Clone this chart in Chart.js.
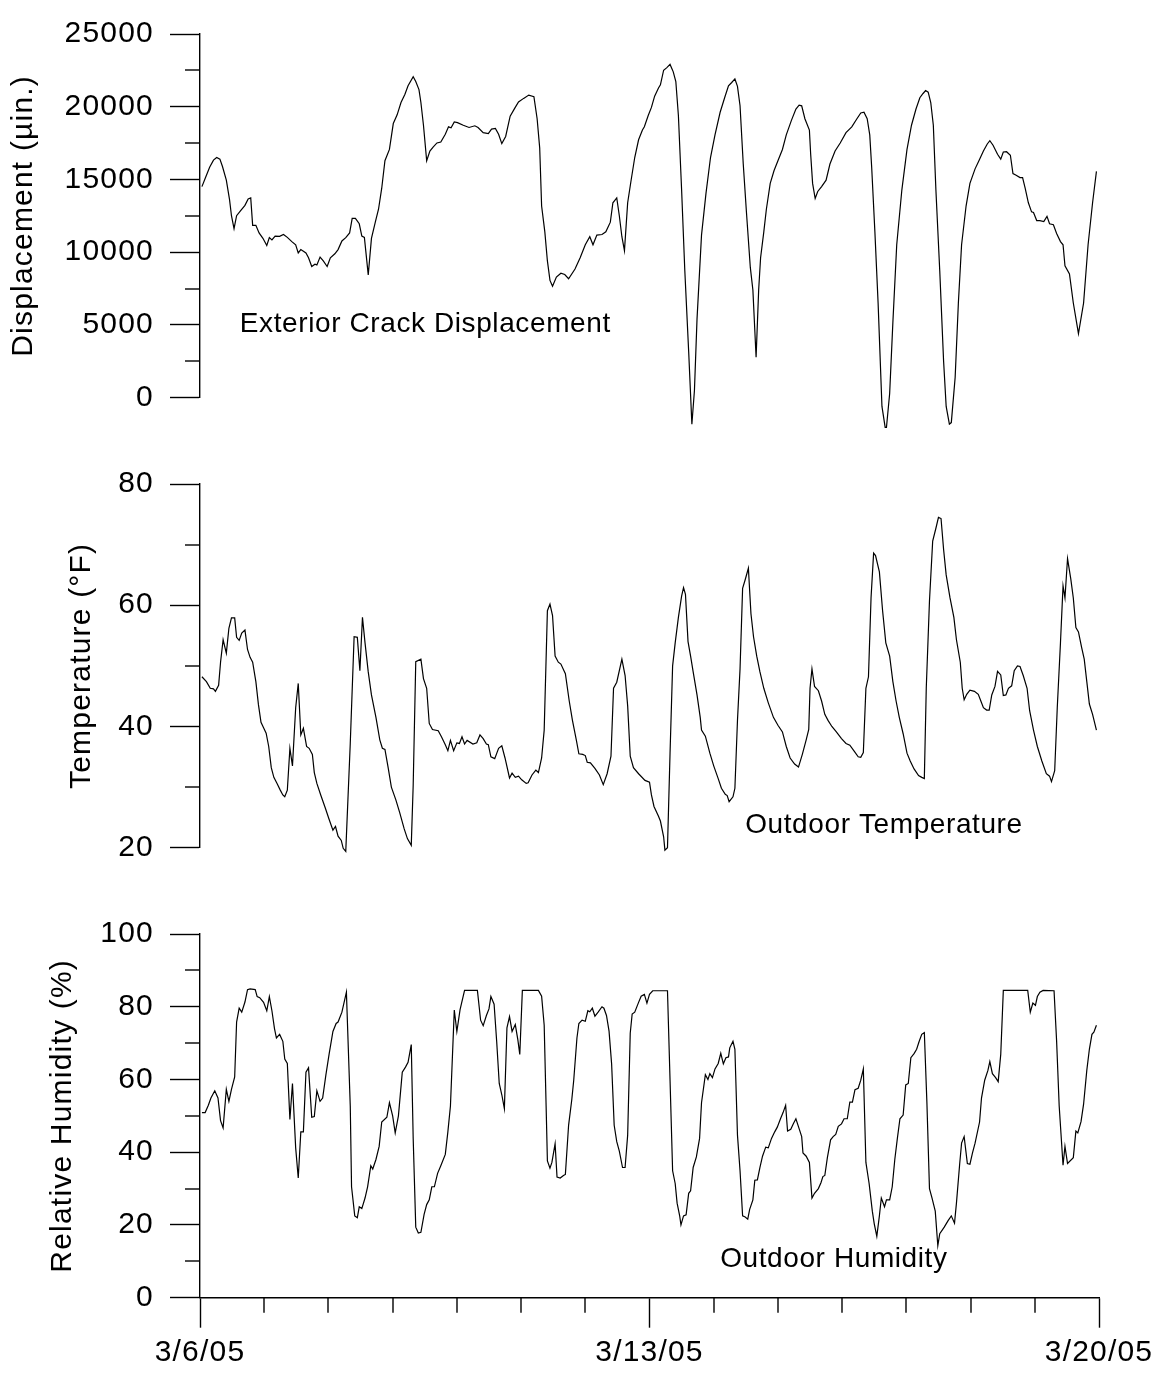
<!DOCTYPE html>
<html><head><meta charset="utf-8">
<script src="https://cdn.jsdelivr.net/npm/chart.js@4.4.0/dist/chart.umd.min.js"></script>
<style>
html,body{margin:0;padding:0;background:#fff;}
#wrap{position:relative;width:1162px;height:1380px;overflow:hidden;background:#fff;}
canvas{position:absolute;left:0;}
</style></head><body>
<div id="wrap">
<canvas id="c1" width="1162" height="450" style="top:0px"></canvas>
<canvas id="c2" width="1162" height="450" style="top:450px"></canvas>
<canvas id="c3" width="1162" height="480" style="top:900px"></canvas>
</div>
<script>
// ---------- DATA (x = days since 3/6/05) ----------
const dispDays = [0.03,0.08,0.15,0.21,0.26,0.31,0.35,0.41,0.46,0.49,0.53,0.57,0.63,0.70,0.75,0.79,0.82,0.87,0.92,0.98,1.04,1.08,1.12,1.17,1.24,1.30,1.36,1.43,1.49,1.53,1.57,1.65,1.69,1.74,1.79,1.82,1.87,1.92,1.98,2.03,2.10,2.15,2.21,2.27,2.33,2.37,2.42,2.48,2.52,2.56,2.62,2.67,2.73,2.78,2.83,2.88,2.95,3.01,3.07,3.13,3.19,3.24,3.32,3.36,3.41,3.44,3.48,3.53,3.58,3.63,3.69,3.75,3.82,3.87,3.91,3.96,4.01,4.10,4.19,4.28,4.33,4.41,4.49,4.54,4.60,4.65,4.70,4.76,4.83,4.90,4.96,5.04,5.12,5.20,5.25,5.29,5.32,5.37,5.41,5.45,5.49,5.55,5.62,5.68,5.74,5.84,5.92,6.00,6.07,6.12,6.18,6.26,6.32,6.39,6.43,6.49,6.53,6.57,6.61,6.66,6.71,6.77,6.83,6.89,6.92,6.98,7.03,7.08,7.14,7.17,7.22,7.27,7.32,7.37,7.41,7.45,7.50,7.55,7.61,7.66,7.70,7.74,7.81,7.88,7.95,8.02,8.10,8.17,8.23,8.28,8.33,8.37,8.41,8.46,8.51,8.57,8.61,8.66,8.70,8.73,8.78,8.82,8.88,8.94,9.00,9.07,9.13,9.21,9.28,9.33,9.37,9.42,9.49,9.51,9.54,9.58,9.62,9.68,9.75,9.81,9.89,9.97,10.06,10.15,10.23,10.29,10.34,10.39,10.43,10.46,10.51,10.56,10.62,10.67,10.69,10.74,10.79,10.85,10.93,11.01,11.08,11.15,11.21,11.26,11.30,11.34,11.38,11.42,11.46,11.52,11.58,11.62,11.67,11.70,11.76,11.81,11.86,11.93,11.99,12.07,12.13,12.20,12.26,12.30,12.35,12.42,12.47,12.51,12.56,12.62,12.66,12.71,12.77,12.81,12.85,12.90,12.95,12.98,13.03,13.08,13.14,13.19,13.23,13.29,13.34,13.40,13.44,13.47,13.54,13.60,13.68,13.76,13.83,13.90,13.96];
const dispValues = [14510,15065,15840,16330,16510,16400,15890,14955,13620,12510,11620,12510,12840,13220,13665,13730,11845,11845,11330,10955,10465,11000,10845,11110,11090,11220,11020,10730,10510,9955,10180,9955,9620,9020,9180,9130,9665,9400,9020,9620,9890,10180,10775,11000,11330,12330,12330,11955,11110,11020,8445,10955,12065,12955,14400,16290,17065,18845,19445,20290,20840,21440,22065,21730,21175,20290,18730,16290,16955,17220,17510,17575,18110,18620,18555,18955,18910,18730,18575,18690,18575,18220,18155,18465,18510,18110,17465,17955,19355,19890,20330,20575,20800,20690,19175,17175,13175,11400,9400,8065,7665,8290,8555,8465,8175,8845,9620,10510,11065,10510,11175,11220,11400,12065,13400,13730,12510,11065,10110,13400,14845,16510,17730,18400,18620,19400,19955,20730,21290,21510,22510,22690,22910,22400,21730,19400,14290,8730,3175,-1820,510,5400,11175,14065,16510,18065,19620,20620,21440,21665,21910,21400,20065,16065,12730,8955,7400,2780,7400,9620,11400,12955,14730,15620,16290,17065,18065,19065,19845,20110,20065,19175,18400,16730,14730,13690,14175,14510,14955,16065,16955,17510,18220,18620,19175,19575,19620,19175,18065,15845,11400,6510,-600,-2045,-2045,290,5175,10510,14290,17065,18730,19845,20620,20910,21110,21000,20290,18730,14290,8730,2510,-600,-1820,-1710,1400,6510,10510,13175,14730,15730,16290,16955,17440,17665,17355,16730,16400,16890,16910,16665,15400,15290,15130,15130,14400,13400,12775,12730,12175,12175,12110,12465,11955,11890,11290,10730,10510,9065,8510,6510,4400,6510,10510,13400,15555];

const tempDays = [0.03,0.10,0.16,0.21,0.24,0.29,0.32,0.36,0.41,0.45,0.49,0.54,0.57,0.61,0.65,0.70,0.74,0.78,0.82,0.87,0.91,0.95,0.99,1.03,1.07,1.11,1.15,1.20,1.25,1.29,1.32,1.36,1.40,1.44,1.49,1.53,1.57,1.61,1.66,1.70,1.75,1.78,1.82,1.88,1.95,2.01,2.07,2.11,2.15,2.20,2.23,2.27,2.34,2.40,2.45,2.49,2.53,2.57,2.62,2.67,2.74,2.80,2.84,2.88,2.93,2.98,3.05,3.11,3.18,3.23,3.29,3.32,3.36,3.44,3.48,3.53,3.57,3.62,3.71,3.76,3.82,3.86,3.90,3.95,4.00,4.04,4.08,4.12,4.16,4.25,4.31,4.36,4.41,4.46,4.49,4.53,4.59,4.65,4.70,4.75,4.82,4.86,4.91,4.96,5.01,5.08,5.11,5.17,5.23,5.27,5.32,5.36,5.41,5.45,5.49,5.53,5.58,5.62,5.69,5.75,5.80,5.86,5.90,5.96,6.00,6.03,6.08,6.15,6.22,6.28,6.34,6.40,6.44,6.49,6.57,6.62,6.66,6.70,6.75,6.83,6.93,7.00,7.03,7.07,7.14,7.17,7.22,7.24,7.28,7.32,7.36,7.40,7.45,7.50,7.53,7.56,7.60,7.64,7.68,7.74,7.79,7.81,7.87,7.94,8.00,8.07,8.12,8.18,8.21,8.24,8.30,8.33,8.37,8.41,8.45,8.49,8.54,8.58,8.62,8.67,8.72,8.78,8.85,8.93,9.00,9.07,9.13,9.19,9.26,9.32,9.38,9.44,9.48,9.50,9.53,9.57,9.63,9.68,9.73,9.78,9.84,9.91,9.99,10.06,10.12,10.19,10.25,10.29,10.33,10.37,10.41,10.45,10.49,10.52,10.58,10.63,10.68,10.74,10.79,10.84,10.89,10.95,11.01,11.06,11.12,11.19,11.24,11.28,11.31,11.36,11.41,11.46,11.50,11.54,11.58,11.62,11.68,11.74,11.78,11.84,11.87,11.90,11.94,11.99,12.06,12.12,12.16,12.20,12.25,12.29,12.33,12.38,12.42,12.47,12.51,12.55,12.59,12.64,12.68,12.73,12.77,12.82,12.88,12.92,12.98,13.04,13.11,13.18,13.23,13.26,13.31,13.35,13.40,13.44,13.47,13.51,13.56,13.60,13.64,13.68,13.73,13.77,13.81,13.85,13.90,13.96];
const tempValues = [48.2,47.4,46.3,46.2,45.8,46.8,50.6,54.3,52.1,56.2,57.9,57.9,54.7,54.2,55.4,55.9,52.7,51.4,50.6,47.4,43.6,40.7,39.8,38.9,36.7,33.2,31.6,30.6,29.5,28.7,28.4,29.5,36.4,33.5,43.1,47.1,38.6,39.7,36.7,36.4,35.4,32.4,30.6,28.7,26.6,24.7,22.9,23.5,21.9,21.2,19.9,19.4,37.2,54.8,54.7,49.2,58.0,53.8,49.0,45.2,41.5,37.8,36.4,36.2,33.2,30.0,27.9,25.8,23.1,21.5,20.4,30.3,50.7,51.1,47.9,46.3,40.5,39.5,39.3,38.3,37.0,36.0,37.7,36.0,37.3,37.2,38.3,37.1,37.7,37.1,37.3,38.6,38.0,37.1,37.0,35.0,34.7,36.4,36.8,34.8,31.5,32.3,31.6,31.8,31.2,30.6,30.7,32.0,32.8,32.4,34.8,39.4,59.1,60.2,58.3,51.6,50.6,50.3,48.7,44.2,41.0,37.8,35.5,35.4,35.2,34.1,34.0,33.1,32.0,30.4,32.2,35.1,46.3,47.3,51.1,48.4,43.4,35.1,33.2,32.2,31.1,30.8,28.7,26.8,25.2,24.4,21.8,19.6,20.0,35.6,50.0,53.8,58.0,61.5,62.9,61.8,54.0,51.6,49.0,45.2,41.5,39.4,38.4,35.6,33.5,31.4,29.8,28.8,28.6,27.6,28.4,29.8,41.0,49.5,62.8,64.2,66.1,58.6,54.8,51.6,49.0,46.3,43.9,41.5,40.2,39.1,36.7,34.8,33.8,33.3,35.4,37.8,39.5,46.3,49.5,46.6,45.9,44.2,42.0,41.0,40.0,39.1,38.0,37.2,36.9,35.9,35.0,34.9,35.7,46.3,48.2,61.2,68.6,68.2,65.5,59.1,53.8,51.6,47.4,44.2,41.5,38.8,35.6,34.3,33.0,31.9,31.6,31.4,46.3,60.7,70.6,72.7,74.5,74.3,69.2,65.0,61.2,58.0,54.3,50.6,46.3,44.4,45.3,46.0,45.8,45.3,44.2,43.1,42.7,42.7,45.2,46.6,49.1,48.5,45.1,45.2,46.3,46.7,49.2,50.0,49.9,48.4,46.3,42.6,39.4,36.7,34.3,32.2,31.8,30.9,32.7,43.1,53.8,63.2,61.2,67.7,64.4,61.2,56.3,55.6,53.0,51.1,47.4,43.7,42.0,39.4];

const humDays = [0.03,0.08,0.13,0.17,0.23,0.28,0.32,0.36,0.41,0.45,0.49,0.54,0.57,0.61,0.65,0.70,0.74,0.78,0.86,0.89,0.93,0.99,1.04,1.08,1.12,1.16,1.19,1.24,1.29,1.32,1.36,1.40,1.44,1.49,1.53,1.57,1.61,1.65,1.69,1.74,1.78,1.82,1.87,1.91,1.96,2.01,2.07,2.12,2.15,2.21,2.28,2.34,2.36,2.41,2.45,2.48,2.52,2.57,2.61,2.66,2.69,2.74,2.79,2.83,2.91,2.95,3.00,3.04,3.09,3.15,3.20,3.24,3.29,3.32,3.36,3.40,3.44,3.49,3.53,3.57,3.61,3.65,3.70,3.75,3.82,3.86,3.90,3.96,4.00,4.05,4.12,4.32,4.37,4.41,4.46,4.50,4.53,4.58,4.62,4.66,4.70,4.74,4.78,4.82,4.86,4.91,4.95,4.98,5.02,5.27,5.32,5.36,5.39,5.41,5.45,5.48,5.53,5.56,5.61,5.66,5.69,5.74,5.79,5.82,5.87,5.90,5.95,6.00,6.04,6.07,6.11,6.15,6.20,6.26,6.29,6.33,6.37,6.41,6.45,6.49,6.53,6.58,6.62,6.66,6.70,6.73,6.77,6.83,6.87,6.92,6.96,7.00,7.05,7.28,7.32,7.36,7.40,7.43,7.47,7.49,7.53,7.57,7.61,7.64,7.68,7.73,7.78,7.81,7.87,7.91,7.94,7.98,8.02,8.07,8.11,8.15,8.19,8.23,8.25,8.30,8.33,8.37,8.41,8.45,8.49,8.53,8.56,8.61,8.64,8.68,8.72,8.76,8.81,8.85,8.90,8.95,8.99,9.04,9.08,9.12,9.15,9.20,9.24,9.28,9.33,9.37,9.39,9.44,9.49,9.53,9.57,9.63,9.67,9.70,9.73,9.77,9.82,9.86,9.90,9.94,9.99,10.03,10.08,10.12,10.16,10.20,10.25,10.29,10.33,10.37,10.42,10.47,10.50,10.54,10.58,10.61,10.66,10.69,10.74,10.78,10.82,10.86,10.90,10.95,10.99,11.03,11.07,11.12,11.16,11.20,11.24,11.28,11.32,11.36,11.40,11.45,11.49,11.52,11.59,11.65,11.70,11.75,11.78,11.83,11.86,11.90,11.95,11.99,12.03,12.07,12.14,12.17,12.22,12.27,12.30,12.34,12.39,12.43,12.47,12.51,12.89,12.93,12.97,13.01,13.04,13.08,13.13,13.30,13.34,13.38,13.44,13.47,13.51,13.60,13.64,13.67,13.72,13.76,13.81,13.85,13.89,13.92,13.96];
const humValues = [50.9,50.9,52.9,54.9,56.9,54.9,48.7,46.7,57.3,54.0,57.3,60.7,75.8,79.6,78.5,81.3,84.7,84.9,84.7,82.8,82.5,81.2,78.9,82.8,78.9,74.0,71.4,72.4,70.5,65.6,64.4,49.0,58.9,41.2,32.9,45.6,45.6,62.0,63.2,49.6,49.8,56.9,54.0,54.9,61.2,66.9,73.2,75.4,75.8,78.5,84.0,52.7,30.5,22.5,22.0,25.0,24.5,27.4,30.5,36.3,35.4,38.0,41.6,48.3,49.6,53.6,50.0,45.3,50.0,62.0,63.4,64.7,69.6,43.8,19.4,17.8,18.0,22.9,25.6,26.9,30.5,30.5,34.2,36.3,39.4,45.6,52.7,79.1,73.2,79.2,84.5,84.5,76.3,74.8,77.6,79.4,82.8,80.7,70.5,58.9,55.8,52.0,74.2,77.3,73.2,75.1,70.9,66.9,84.5,84.5,82.9,74.9,52.7,37.6,35.6,37.2,42.3,33.2,32.9,33.6,33.9,47.4,54.5,59.8,71.4,75.4,76.3,76.0,78.9,78.6,79.6,77.4,78.5,80.0,79.6,77.6,73.3,64.3,47.4,42.9,40.3,35.8,35.8,44.7,72.7,78.0,78.5,81.2,82.9,83.4,81.0,83.4,84.4,84.4,59.8,34.9,31.4,26.0,22.5,20.0,22.5,22.8,28.7,29.4,35.8,38.7,43.8,53.6,61.3,60.0,61.6,60.5,62.9,64.4,67.2,64.3,66.0,66.2,68.7,70.5,68.3,44.7,34.9,22.5,22.2,21.6,24.3,26.9,32.3,32.4,35.8,38.9,41.4,41.2,43.8,45.6,46.9,49.2,50.9,52.9,45.8,46.3,47.8,49.2,46.5,44.3,39.8,38.9,37.2,27.4,28.7,30.0,31.6,33.3,33.6,38.5,43.4,44.3,44.9,47.1,47.8,49.2,49.2,53.8,53.8,57.2,57.6,59.8,62.9,37.2,31.4,23.8,20.3,16.9,22.5,27.4,25.0,26.9,26.9,30.5,38.0,43.8,49.2,50.2,58.5,58.9,66.0,67.1,68.3,70.5,72.4,72.9,53.6,30.0,27.4,23.8,14.3,17.6,19.4,21.2,22.5,20.5,26.0,36.7,42.5,44.3,36.9,36.7,39.8,42.5,48.3,54.9,59.8,62.5,64.9,61.6,60.5,59.4,66.9,84.5,84.5,78.5,81.0,80.4,82.8,84.0,84.5,84.4,70.5,52.7,36.4,41.6,36.9,38.5,45.8,45.3,48.4,53.2,62.5,68.3,72.4,73.0,74.9];

// ---------- AXES / TICKS ----------
const dayMajor = [0, 7, 14];
const dayMajorLabels = ['3/6/05', '3/13/05', '3/20/05'];
const dayMinor = [1, 2, 3, 4, 5, 6, 8, 9, 10, 11, 12, 13];
const dispMajor = [0, 5000, 10000, 15000, 20000, 25000];
const dispMinor = [2500, 7500, 12500, 17500, 22500];
const tempMajor = [20, 40, 60, 80];
const tempMinor = [30, 50, 70];
const humMajor = [0, 20, 40, 60, 80, 100];
const humMinor = [10, 30, 50, 70, 90];

const FONT = '"Liberation Sans", Arial, Helvetica, sans-serif';
const LINE = '#000';
const AXW = 1.4;

const spacingPlugin = {
  id: 'spacing',
  beforeDraw(chart) { chart.ctx.letterSpacing = '1.2px'; }
};
const minorPlugin = {
  id: 'minorTicks',
  afterDraw(chart, args, opts) {
    const ctx = chart.ctx, ca = chart.chartArea;
    ctx.save();
    ctx.strokeStyle = LINE; ctx.lineWidth = AXW;
    const ys = chart.scales.y;
    (opts.y || []).forEach(v => {
      const p = Math.round(ys.getPixelForValue(v));
      ctx.beginPath(); ctx.moveTo(ca.left - 15, p); ctx.lineTo(ca.left, p); ctx.stroke();
    });
    const xs = chart.scales.x;
    (opts.x || []).forEach(v => {
      const p = Math.round(xs.getPixelForValue(v));
      ctx.beginPath(); ctx.moveTo(p, ca.bottom); ctx.lineTo(p, ca.bottom + 15); ctx.stroke();
    });
    ctx.restore();
  }
};
const notePlugin = {
  id: 'note',
  afterDraw(chart, args, opts) {
    if (!opts.text) return;
    const ctx = chart.ctx;
    ctx.save();
    ctx.letterSpacing = '0.6px';
    ctx.font = '28px ' + FONT;
    ctx.fillStyle = '#000';
    ctx.textAlign = 'left';
    ctx.textBaseline = 'alphabetic';
    ctx.fillText(opts.text, chart.scales.x.getPixelForValue(opts.x), chart.scales.y.getPixelForValue(opts.y));
    ctx.restore();
  }
};

function makeChart(id, c) {
  const xScale = {
    type: 'linear', min: 0, max: 14, display: !!c.showX, position: 'bottom',
    afterBuildTicks(s) { s.ticks = dayMajor.map(v => ({ value: v })); },
    afterFit(s) { if (c.showX) s.height = c.xHeight; },
    ticks: {
      autoSkip: false, maxRotation: 0, padding: 7, color: '#000',
      font: { size: 30, family: FONT },
      callback: v => { const i = dayMajor.indexOf(v); return i >= 0 ? dayMajorLabels[i] : ''; }
    },
    grid: { drawOnChartArea: false, drawTicks: true, tickLength: 30, tickWidth: AXW, tickColor: LINE },
    border: { display: true, color: LINE, width: AXW }
  };
  return new Chart(document.getElementById(id), {
    type: 'line',
    data: {
      datasets: [{
        data: c.days.map((d, i) => ({ x: d, y: c.values[i] })),
        borderColor: LINE, borderWidth: 1.2, pointRadius: 0, tension: 0, fill: false, clip: false
      }]
    },
    options: {
      responsive: false, animation: false, devicePixelRatio: 1,
      layout: { padding: { left: c.padLeft, right: 63, top: 23.3, bottom: c.padBottom } },
      plugins: {
        legend: { display: false }, tooltip: { enabled: false },
        minorTicks: { y: c.minor, x: c.showX ? dayMinor : [] },
        note: c.note
      },
      scales: {
        x: xScale,
        y: {
          type: 'linear', position: 'left', min: c.min, max: c.max,
          afterBuildTicks(s) { s.ticks = c.major.map(v => ({ value: v })); },
          afterFit(s) { s.width = 200 - c.padLeft; },
          ticks: { autoSkip: false, padding: 16, color: '#000', font: { size: 30, family: FONT }, callback: v => String(v) },
          grid: { drawOnChartArea: false, drawTicks: true, tickLength: 30, tickWidth: AXW, tickColor: LINE },
          border: { display: true, color: LINE, width: AXW },
          title: { display: true, text: c.title, color: '#000', padding: 0, font: { size: 30, family: FONT } }
        }
      }
    },
    plugins: [spacingPlugin, minorPlugin, notePlugin]
  });
}

makeChart('c1', {
  days: dispDays, values: dispValues, min: 0, max: 25000, major: dispMajor, minor: dispMinor,
  title: 'Displacement (\u00B5in.)', padLeft: 6, padBottom: 52.3,
  note: { text: 'Exterior Crack Displacement', x: 0.62, y: 4500 }
});
makeChart('c2', {
  days: tempDays, values: tempValues, min: 20, max: 80, major: tempMajor, minor: tempMinor,
  title: 'Temperature (\u00B0F)', padLeft: 63.5, padBottom: 52.3,
  note: { text: 'Outdoor Temperature', x: 8.49, y: 22.35 }
});
makeChart('c3', {
  days: humDays, values: humValues, min: 0, max: 100, major: humMajor, minor: humMinor,
  title: 'Relative Humidity (%)', padLeft: 45, padBottom: 0, showX: true, xHeight: 82.3,
  note: { text: 'Outdoor Humidity', x: 8.10, y: 8.45 }
});
</script>
</body></html>
